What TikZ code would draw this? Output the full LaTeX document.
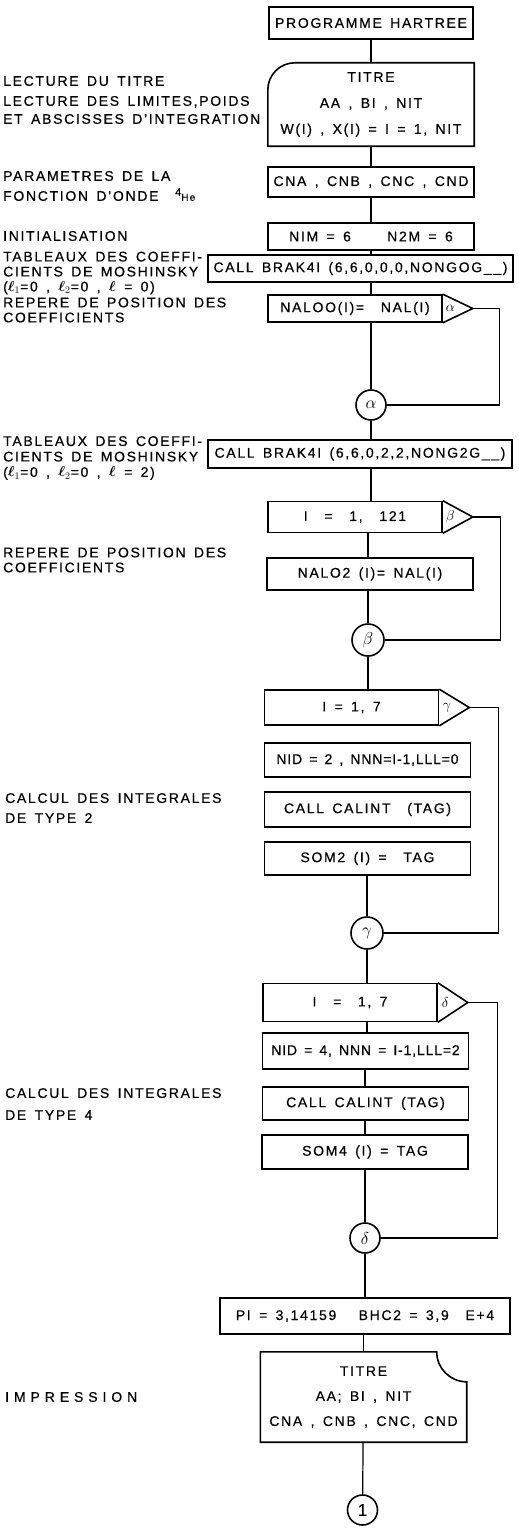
\documentclass[tikz,border=0pt]{standalone}
\usepackage{amsmath}
\usepackage{fontspec}
\setmainfont{Liberation Sans}[LetterSpace=12,WordSpace=1.5,FakeBold=0.5]
\usetikzlibrary{calc}

\begin{document}
\begin{tikzpicture}[
		x=1pt, y=1pt,
		every node/.style={font=\fontsize{14}{17}\selectfont},
		box/.style={
			draw,
			rectangle,
			line width=1.6pt,
			minimum width=206pt,
			minimum height=30pt,
			inner sep=2pt,
			align=center
		},
		loopbox/.style={box, minimum width=174pt},
		cardtext/.style={
			rectangle,
			minimum width=206pt,
			minimum height=83pt,
			inner sep=2pt,
			align=center
		},
		outline/.style={line width=1.6pt},
		conn/.style={
			draw,
			circle,
			line width=1.6pt,
			minimum size=30pt,
			inner sep=0pt,
			font=\fontsize{17}{17}\selectfont
		},
		grk/.style={inner sep=0pt, font=\fontsize{14}{14}\selectfont},
		lab/.style={anchor=west, align=left, inner sep=0pt},
		link/.style={line width=1.2pt}
		]
		
		\useasboundingbox (0,0) rectangle (519,-1528);
		
		% Boxes of the main column
		\node[box, minimum width=204pt, minimum height=32pt] (ph) at (371,-23) {PROGRAMME HARTREE};
		\node[cardtext, font=\fontsize{14}{26}\selectfont] (titre) at (371,-104.5)
		{TITRE\\AA , BI , NIT\\W(I) , X(I) = I = 1, NIT};
		\node[box] (cna) at (371,-182) {CNA , CNB , CNC , CND};
		\node[box, minimum height=27pt] (nim) at (371,-236.5) {NIM = 6 \qquad N2M = 6};
		\node[box, minimum width=305pt, minimum height=27pt] (braka) at (360.5,-268.5)
		{CALL BRAK4I (6,6,0,0,0,NONGOG\_\_)};
		\node[loopbox, minimum height=27pt] (doa) at (355,-308.5) {NALOO(I)= \ NAL(I)};
		\node[conn] (ca) at (371,-405) {$\alpha$};
		
		\node[box, minimum width=304pt, minimum height=28pt] (brakb) at (360,-454)
		{CALL BRAK4I (6,6,0,2,2,NONG2G\_\_)};
		\node[loopbox, minimum height=31pt] (dob) at (355,-517) {I \ = \ 1, \ 121};
		\node[box, minimum height=32pt] (naltwo) at (370,-574) {NALO2 (I)= NAL(I)};
		\node[conn, minimum size=32pt] (cb) at (368,-640) {$\beta$};
		
		\node[loopbox, minimum height=35pt] (doc) at (351.5,-707.5) {I = 1, 7};
		\node[box, minimum height=34pt, font=\fontsize{14}{17}\selectfont\addfontfeature{LetterSpace=6}] (nida) at (367.5,-760)
		{NID = 2 , NNN=I-1,LLL=0};
		\node[box, minimum height=35pt] (cala) at (367.5,-809.5) {CALL CALINT \ (TAG)};
		\node[box, minimum height=33pt] (soma) at (367.5,-858.5) {SOM2 (I) = \ TAG};
		\node[conn, minimum size=32pt] (cg) at (367,-933) {$\gamma$};
		
		\node[loopbox, minimum height=38pt] (dod) at (350,-1002.5) {I \ = \ 1, 7};
		\node[box, minimum height=36pt, font=\fontsize{14}{17}\selectfont\addfontfeature{LetterSpace=6}] (nidb) at (365.5,-1051)
		{NID = 4, NNN = I-1,LLL=2};
		\node[box, minimum height=33pt] (calb) at (365.5,-1103.5) {CALL CALINT (TAG)};
		\node[box, minimum height=34pt] (somb) at (365,-1152) {SOM4 (I) = TAG};
		\node[conn] (cd) at (365,-1238) {$\delta$};
		
		\node[box, minimum width=290pt, minimum height=36pt] (pival) at (365,-1316)
		{PI = 3,14159 \quad BHC2 = 3,9 \ E+4};
		\node[cardtext, minimum height=90pt, font=\fontsize{14}{25}\selectfont] (impr) at (363.5,-1397)
		{TITRE\\AA; BI , NIT\\CNA , CNB , CNC, CND};
		\node[conn] (cend) at (362.5,-1510) {1};
		
		% Card outlines
		\draw[outline] (titre.north east) -- ([xshift=27pt]titre.north west)
		arc[start angle=90, end angle=180, radius=27pt]
		-- (titre.south west) -- (titre.south east) -- cycle;
		\draw[outline] (impr.north west) -- ([xshift=-30pt]impr.north east)
		arc[start angle=180, end angle=270, radius=30pt]
		-- (impr.south east) -- (impr.south west) -- cycle;
		
		% Loop heads
		\foreach \d/\g in {doa/\alpha, dob/\beta, doc/\gamma, dod/\delta}{
			\coordinate (\d-tip) at ([xshift=30pt]\d.east);
			\draw[outline] (\d.north east) -- (\d-tip) -- (\d.south east);
			\node[grk] (\d-grk) at ([xshift=7.5pt]\d.east) {$\g$};
		}
		
		% Flow
		\draw[link] (ph.south -| ca) -- (titre.north -| ca);
		\draw[link] (titre.south -| ca) -- (cna.north -| ca);
		\draw[link] (cna.south -| ca) -- (nim.north -| ca);
		\draw[link] (nim.south -| ca) -- (braka.north -| ca);
		\draw[link] (braka.south -| ca) -- (doa.north -| ca);
		\draw[link] (doa.south -| ca) -- (ca);
		\draw[link] (ca) -- (brakb.north -| ca);
		\draw[link] (brakb.south -| ca) -- (dob.north -| ca);
		\draw[link] (dob.south -| cb) -- (naltwo.north -| cb);
		\draw[link] (naltwo.south -| cb) -- (cb);
		\draw[link] (cb) -- (doc.north -| cb);
		\draw[link] (soma.south -| cg) -- (cg);
		\draw[link] (cg) -- (dod.north -| cg);
		\draw[link] (dod.south -| cg) -- (nidb.north -| cg);
		\draw[link] (nidb.south -| cd) -- (calb.north -| cd);
		\draw[link] (calb.south -| cd) -- (somb.north -| cd);
		\draw[link] (somb.south -| cd) -- (cd);
		\draw[link] (cd) -- (pival.north -| cd);
		\draw[link] (pival.south -| impr) -- (impr.north);
		\draw[link] (impr) -- (cend);
		
		% Loop returns
		\draw[link] (doa-tip) -- ++(27,0) |- (ca);
		\draw[link] (dob-tip) -- ++(28,0) |- (cb);
		\draw[link] (doc-tip) -- ++(29,0) |- (cg);
		\draw[link] (dod-tip) -- ++(30,0) |- (cd);
		
		% Comments on the left
		\node[lab] (la) at (3,-81) {LECTURE DU TITRE};
		\node[lab, font=\fontsize{14}{18}\selectfont] (lb) at (3,-110)
		{LECTURE DES LIMITES,POIDS\\ET ABSCISSES D'INTEGRATION};
		\node[lab, font=\fontsize{14}{20}\selectfont] (lc) at (3,-186)
		{PARAMETRES DE LA\\FONCTION D'ONDE \ \raisebox{5pt}{\fontsize{11}{11}\selectfont 4}{\fontsize{10}{10}\selectfont He}};
		\node[lab] (ld) at (3,-236) {INITIALISATION};
		\node[lab, font=\fontsize{14}{15}\selectfont] (le) at (3,-273)
		{TABLEAUX DES COEFFI-\\CIENTS DE MOSHINSKY\\($\boldsymbol{\ell}_1$=0 , $\boldsymbol{\ell}_2$=0 , $\boldsymbol{\ell}$ = 0)};
		\node[lab, font=\fontsize{14}{15}\selectfont] (lf) at (3,-310)
		{REPERE DE POSITION DES\\COEFFICIENTS};
		\node[lab, font=\fontsize{14}{15.5}\selectfont] (lg) at (3,-458)
		{TABLEAUX DES COEFFI-\\CIENTS DE MOSHINSKY\\($\boldsymbol{\ell}_1$=0 , $\boldsymbol{\ell}_2$=0 , $\boldsymbol{\ell}$ = 2)};
		\node[lab, font=\fontsize{14}{15}\selectfont] (lh) at (3,-560)
		{REPERE DE POSITION DES\\COEFFICIENTS};
		\node[lab, font=\fontsize{14}{20}\selectfont] (li) at (5,-808)
		{CALCUL DES INTEGRALES\\DE TYPE 2};
		\node[lab, font=\fontsize{14}{22}\selectfont] (lj) at (5,-1104)
		{CALCUL DES INTEGRALES\\DE TYPE 4};
		\node[lab, font=\fontsize{14}{17}\selectfont\addfontfeature{LetterSpace=35}] (lk) at (5,-1397) {IMPRESSION};
		
	\end{tikzpicture}
\end{document}
